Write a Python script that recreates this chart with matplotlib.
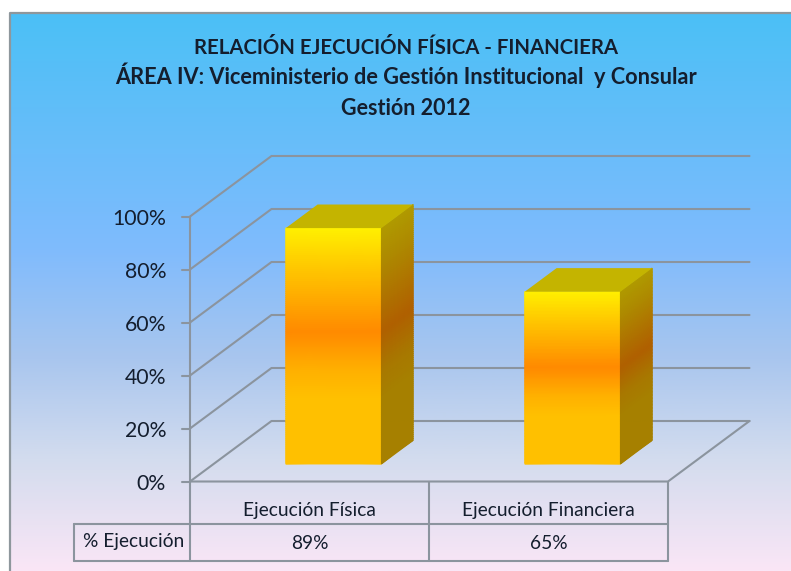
import numpy as np
import matplotlib
matplotlib.use("Agg")
import matplotlib.pyplot as plt
from matplotlib.colors import LinearSegmentedColormap
from matplotlib.patches import Polygon

# ---- data ----
categories = ["Ejecución Física", "Ejecución Financiera"]
values = [89, 65]
value_labels = ["89%", "65%"]
yticks = [0, 20, 40, 60, 80, 100]
ytick_labels = ["0%", "20%", "40%", "60%", "80%", "100%"]
row_label = "% Ejecución"
title_lines = ["RELACIÓN EJECUCIÓN FÍSICA - FINANCIERA",
               "ÁREA IV: Viceministerio de Gestión Institucional  y Consular",
               "Gestión 2012"]

W, H = 791, 571
FONT = "Lato"
GRID = "#8B949E"
TXT = "#141E2E"

fig = plt.figure(figsize=(W / 100, H / 100), dpi=100, facecolor="white")

# background panel with vertical gradient
bg = fig.add_axes([0, 0, 1, 1], zorder=0)
bg.set_xlim(0, W); bg.set_ylim(H, 0); bg.axis("off")
bg_cmap = LinearSegmentedColormap.from_list("bg", [
    (0.0, "#4BC0F6"), (0.42, "#7FBBFD"), (0.62, "#A9C6EE"),
    (0.80, "#D3DCEE"), (1.0, "#FAE6F6")])
bg.imshow(np.linspace(0, 1, 256)[:, None], cmap=bg_cmap, aspect="auto",
          extent=[10, W, H, 13], zorder=0)
bg.plot([10, 10, W], [H, 13, 13], color="#8E979C", lw=1.6, zorder=1)

# plot axes: the front plane of the 3D box
L, R, T, B = 190, 668, 216.5, 481.5
ax = fig.add_axes([L / W, 1 - B / H, (R - L) / W, (B - T) / H], zorder=1)
ax.set_xlim(0, 2); ax.set_ylim(0, 100); ax.axis("off"); ax.patch.set_alpha(0)
DX = 81.5 / (R - L) * 2
DY = 60.5 / (B - T) * 100


def proj(x, y, d):
    return np.asarray(x) + np.asarray(d) * DX, np.asarray(y) + np.asarray(d) * DY


line = dict(color=GRID, lw=1.5, clip_on=False, solid_capstyle="round", zorder=1)
for t in yticks:
    px, py = proj([0, 0, 2], [t, t, t], [0, 1, 1])
    ax.plot(px, py, **line)
px, py = proj([0, 2, 2], [0, 0, 0], [0, 0, 1])
ax.plot(px, py, **line)
ax.plot([0, 0], [0, 100], **line)
for t, lab in zip(yticks, ytick_labels):
    ax.plot([-8 / (R - L) * 2, 0], [t, t], **line)
    ax.text(-24 / (R - L) * 2, t - 1.1, lab, ha="right", va="center", fontsize=15.3,
            family=FONT, color=TXT, clip_on=False)

# table under the axis
row1, row2, left = -42 / 2.65, -79 / 2.65, -116 / 239
ax.plot([0, 0], [0, row2], **line)
ax.plot([2, 2], [0, row2], **line)
ax.plot([1, 1], [0, row2], **line)
ax.plot([left, 2], [row1, row1], **line)
ax.plot([left, 2], [row2, row2], **line)
ax.plot([left, left], [row1, row2], **line)
ax.text(left / 2 + 0.006, (row1 + row2) / 2, row_label, ha="center", va="center",
        fontsize=13.8, family=FONT, color=TXT)
for i, (c, v) in enumerate(zip(categories, value_labels)):
    ax.text(i + 0.5, row1 / 2 - 3.0, c, ha="center", va="center", fontsize=13.8,
            family=FONT, color=TXT)
    ax.text(i + 0.5, (row1 + row2) / 2 - 0.6, v, ha="center", va="center", fontsize=13.8,
            family=FONT, color=TXT)

# bars
front_cmap = LinearSegmentedColormap.from_list("front", [
    (0.0, "#FFF000"), (0.14, "#FFCE00"), (0.44, "#FF8A00"),
    (0.60, "#FFB000"), (0.72, "#FFC000"), (1.0, "#FFC000")])
side_cmap = LinearSegmentedColormap.from_list("side", [
    (0.0, "#B09A00"), (0.14, "#AE8A00"), (0.44, "#B06000"),
    (0.60, "#A87800"), (0.72, "#A68000"), (1.0, "#A68000")])
TOPC = "#C4B400"
d0, d1 = 0.29, 0.68
bw = 0.4
for i, v in enumerate(values):
    xl, xr = i + 0.5 - bw / 2 + 0.002, i + 0.5 + bw / 2 + 0.002
    s = np.linspace(0, 1, 120)            # 0 at the top of the bar
    C = np.vstack([s, s])
    ys = v * (1 - s)
    # front face
    X = np.array([np.full_like(s, xl), np.full_like(s, xr)])
    Y = np.vstack([ys, ys])
    Xp, Yp = proj(X, Y, d0)
    ax.pcolormesh(Xp, Yp, C, cmap=front_cmap, vmin=0, vmax=1, shading="gouraud",
                  clip_on=False, zorder=3)
    # side face
    X = np.full((2, s.size), xr)
    D = np.array([np.full_like(s, d0), np.full_like(s, d1)])
    Xp, Yp = proj(X, Y, D)
    ax.pcolormesh(Xp, Yp, C, cmap=side_cmap, vmin=0, vmax=1, shading="gouraud",
                  clip_on=False, zorder=3)
    # top face
    tx, ty = proj([xl, xr, xr, xl], [v] * 4, [d0, d0, d1, d1])
    ax.add_patch(Polygon(np.c_[tx, ty], closed=True, facecolor=TOPC, edgecolor="none",
                         clip_on=False, zorder=4))

# title
for txt, y, fs in zip(title_lines, [54.5, 84.5, 115], [14.7, 15.7, 15.5]):
    bg.text(406, y, txt, ha="center", va="baseline", fontsize=fs, fontweight="bold",
            family=FONT, color=TXT, zorder=5)

fig.savefig("out.png", dpi=100)
